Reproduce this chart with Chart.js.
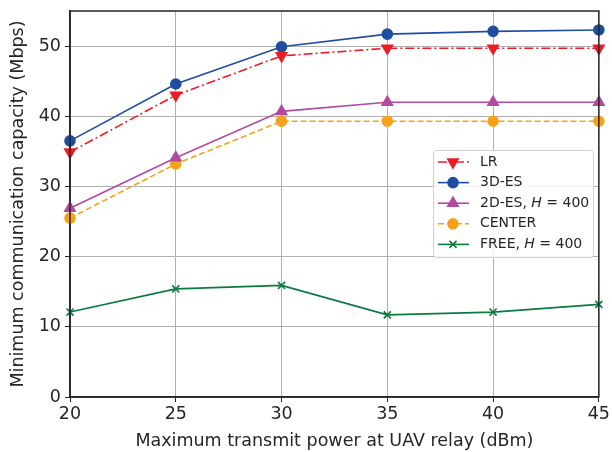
<!DOCTYPE html>
<html>
<head>
<meta charset="utf-8">
<script src="https://cdn.jsdelivr.net/npm/chart.js@4.4.1/dist/chart.umd.min.js"></script>
<style>
  html, body { margin: 0; padding: 0; background: #fff; }
  #wrap { width: 612px; height: 452px; }
</style>
</head>
<body>
<div id="wrap"><canvas id="chart" width="612" height="452"></canvas></div>
<script>
const powerDbm = [20, 25, 30, 35, 40, 45];
const lrValues = [34.9, 43.0, 48.6, 49.7, 49.7, 49.7];
const es3dValues = [36.5, 44.6, 49.9, 51.7, 52.1, 52.3];
const es2dValues = [26.9, 34.1, 40.7, 42.0, 42.0, 42.0];
const centerValues = [25.5, 33.2, 39.3, 39.3, 39.3, 39.3];
const freeValues = [12.1, 15.4, 15.9, 11.7, 12.1, 13.2];
const yTicks = [0, 10, 20, 30, 40, 50];

const font = "DejaVu Sans";
const ink = "#262626";

function pts(vals) {
  return powerDbm.map((x, i) => ({ x, y: vals[i] }));
}

const series = [
  { label: "LR", data: lrValues, color: "#ed1c24", style: "triangle", rot: 180, r: 6, dash: [9, 3, 2, 3] },
  { label: "3D-ES", data: es3dValues, color: "#1f4e9f", style: "circle", rot: 0, r: 5, dash: [] },
  { label: "2D-ES, ", italic: "H", tail: " = 400", data: es2dValues, color: "#b24a9f", style: "triangle", rot: 0, r: 6, dash: [] },
  { label: "CENTER", data: centerValues, color: "#f5a21b", style: "circle", rot: 0, r: 5, dash: [6, 3] },
  { label: "FREE, ", italic: "H", tail: " = 400", data: freeValues, color: "#0b7a3e", style: "crossRot", rot: 0, r: 5, dash: [] },
];

const frame = {
  id: "frame",
  afterDatasetsDraw(chart) {
    const { ctx, chartArea: a } = chart;
    ctx.save();
    ctx.strokeStyle = ink;
    ctx.lineWidth = 1.5;
    ctx.strokeRect(a.left, a.top, a.right - a.left, a.bottom - a.top);
    ctx.restore();
  },
};

const legendBox = {
  id: "legendBox",
  afterDraw(chart) {
    const { ctx } = chart;
    const x0 = 433, y0 = 150, w = 160, h = 107;
    ctx.save();
    ctx.fillStyle = "rgba(255,255,255,0.85)";
    ctx.strokeStyle = "#d0d0d0";
    ctx.lineWidth = 1;
    ctx.beginPath();
    ctx.roundRect(x0 + 0.5, y0 + 0.5, w, h, 3);
    ctx.fill();
    ctx.stroke();
    series.forEach((s, i) => {
      const y = y0 + 12 + i * 20.6;
      ctx.strokeStyle = s.color;
      ctx.lineWidth = 1.6;
      ctx.setLineDash(s.dash);
      ctx.beginPath();
      ctx.moveTo(x0 + 5, y);
      ctx.lineTo(x0 + 36, y);
      ctx.stroke();
      ctx.setLineDash([]);
      ctx.fillStyle = s.color;
      Chart.helpers.drawPoint(ctx, {
        pointStyle: s.style, radius: s.r, rotation: s.rot, borderWidth: 1.6,
      }, x0 + 20, y);
      ctx.fillStyle = ink;
      ctx.textBaseline = "middle";
      ctx.font = `14px "${font}"`;
      let tx = x0 + 47;
      ctx.fillText(s.label, tx, y);
      if (s.italic) {
        tx += ctx.measureText(s.label).width;
        ctx.font = `italic 14px "${font}"`;
        ctx.fillText(s.italic, tx, y);
        tx += ctx.measureText(s.italic).width;
        ctx.font = `14px "${font}"`;
        ctx.fillText(s.tail, tx, y);
      }
    });
    ctx.restore();
  },
};

new Chart(document.getElementById("chart"), {
  type: "line",
  data: {
    datasets: series.map((s) => ({
      label: s.label,
      data: pts(s.data),
      borderColor: s.color,
      backgroundColor: s.color,
      borderWidth: 1.6,
      borderDash: s.dash,
      pointStyle: s.style,
      pointRotation: s.rot,
      pointRadius: s.r,
      pointBorderWidth: 1.6,
      pointBorderColor: s.color,
      pointBackgroundColor: s.color,
      tension: 0,
      clip: false,
    })),
  },
  options: {
    responsive: false,
    animation: false,
    layout: { padding: { top: 11, right: 12, left: 8, bottom: 0 } },
    plugins: { legend: { display: false }, tooltip: { enabled: false } },
    scales: {
      x: {
        type: "linear",
        min: 20,
        max: 45,
        afterFit(s) { s.height = 55; },
        ticks: { stepSize: 5, color: ink, font: { family: font, size: 17.5 }, padding: 2 },
        grid: { color: "#b0b0b0", lineWidth: 1, tickLength: 5, tickColor: ink },
        border: { color: ink, width: 1.5 },
        title: { display: true, text: "Maximum transmit power at UAV relay (dBm)", color: ink, font: { family: font, size: 17.5 }, padding: { top: 0, bottom: 0 } },
      },
      y: {
        type: "linear",
        min: 0,
        max: 55,
        afterFit(s) { s.width = 62; s.paddingTop = 0; s.paddingBottom = 0; },
        afterBuildTicks(s) { s.ticks = yTicks.map((v) => ({ value: v })); },
        ticks: { color: ink, font: { family: font, size: 17.5 }, padding: 4 },
        grid: { color: "#b0b0b0", lineWidth: 1, tickLength: 5, tickColor: ink },
        border: { color: ink, width: 1.5 },
        title: { display: true, text: "Minimum communication capacity (Mbps)", color: ink, font: { family: font, size: 17.5 }, padding: { top: 0, bottom: 4 } },
      },
    },
  },
  plugins: [frame, legendBox],
});
</script>
</body>
</html>
